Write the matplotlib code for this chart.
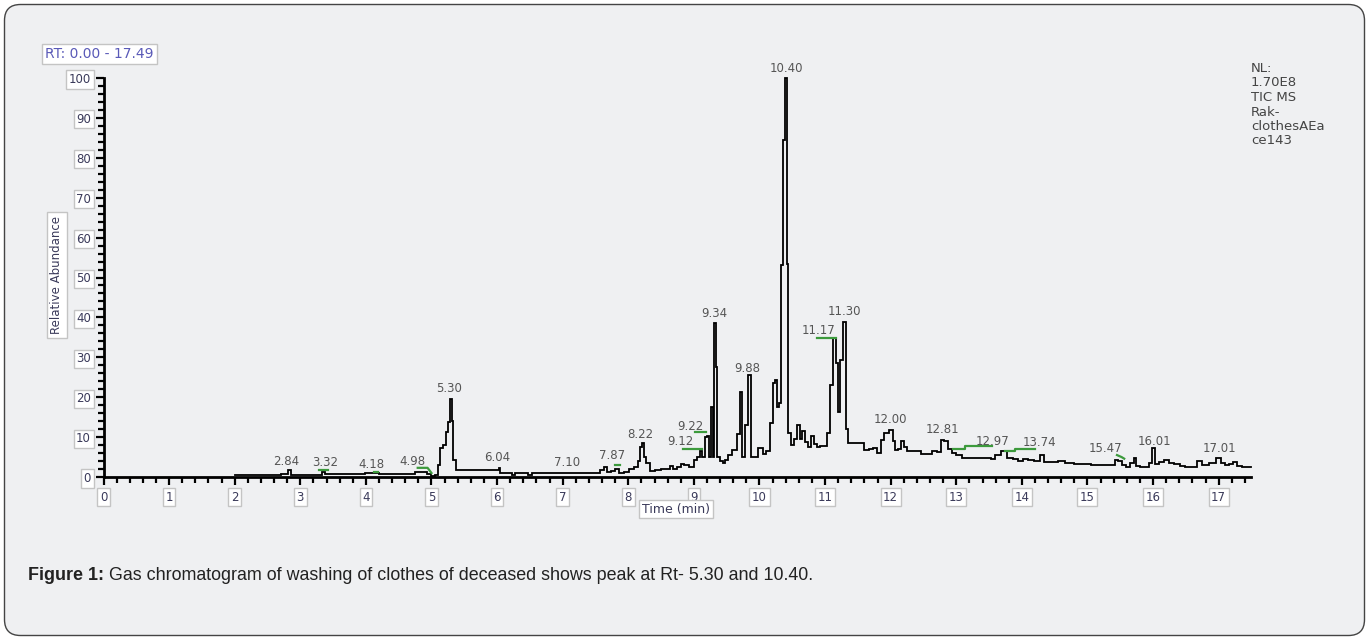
import matplotlib
matplotlib.use("Agg")
import matplotlib.pyplot as plt
import numpy as np
from matplotlib.patches import FancyBboxPatch
from matplotlib.transforms import IdentityTransform
from matplotlib.ticker import MultipleLocator

# TIC trace (retention time in min, relative abundance in %)
rt = [2.00, 2.30, 2.60, 2.80, 2.84, 2.88, 3.00, 3.30, 3.36, 3.40, 3.80, 4.18, 4.22,
      4.60, 4.90, 4.96, 5.02, 5.08, 5.11, 5.15, 5.20, 5.23, 5.27, 5.30, 5.32, 5.35,
      5.39, 5.60, 5.80, 6.02, 6.04, 6.06, 6.20, 6.25, 6.30, 6.45, 6.50, 6.55, 6.80,
      7.00, 7.30, 7.55, 7.60, 7.65, 7.70, 7.76, 7.83, 7.90, 7.97, 8.05, 8.12, 8.17,
      8.19, 8.22, 8.25, 8.30, 8.37, 8.45, 8.55, 8.62, 8.66, 8.70, 8.78, 8.83, 8.88,
      8.96, 9.03, 9.08, 9.11, 9.15, 9.19, 9.21, 9.24, 9.28, 9.30, 9.32, 9.35, 9.37,
      9.42, 9.46, 9.50, 9.54, 9.61, 9.69, 9.72, 9.76, 9.80, 9.85, 9.88, 9.95, 10.02,
      10.08, 10.13, 10.18, 10.22, 10.25, 10.28, 10.32, 10.35, 10.38, 10.40, 10.43,
      10.45, 10.50, 10.55, 10.60, 10.64, 10.67, 10.72, 10.76, 10.80, 10.85, 10.90,
      10.95, 11.00, 11.05, 11.10, 11.14, 11.18, 11.21, 11.25, 11.30, 11.33, 11.38,
      11.45, 11.55, 11.63, 11.70, 11.76, 11.83, 11.88, 11.93, 12.01, 12.05, 12.08,
      12.13, 12.18, 12.23, 12.28, 12.43, 12.50, 12.59, 12.66, 12.74, 12.78, 12.84,
      12.90, 12.96, 13.04, 13.12, 13.30, 13.50, 13.57, 13.62, 13.74, 13.82, 13.90,
      13.98, 14.05, 14.15, 14.23, 14.31, 14.36, 14.50, 14.61, 14.70, 14.89, 15.00,
      15.10, 15.20, 15.30, 15.40, 15.44, 15.50, 15.55, 15.63, 15.68, 15.73, 15.76,
      15.85, 15.91, 15.97, 16.01, 16.06, 16.12, 16.21, 16.28, 16.36, 16.45, 16.51,
      16.64, 16.71, 16.77, 16.82, 16.90, 17.01, 17.07, 17.12, 17.20, 17.25, 17.32,
      17.40, 17.49]
abund = [0.5, 0.6, 0.6, 0.7, 1.8, 0.6, 0.5, 0.6, 1.2, 0.7, 0.7, 0.9, 0.7,
         0.8, 1.2, 0.8, 0.3, 0.4, 3.0, 7.3, 8.0, 11.4, 13.9, 19.5, 14.0, 4.3,
         1.7, 1.7, 1.7, 1.7, 2.3, 1.0, 1.0, 0.6, 1.0, 1.1, 0.6, 1.1, 1.1,
         1.1, 1.1, 1.1, 1.8, 2.6, 1.3, 1.6, 2.1, 1.1, 1.3, 2.1, 2.6, 4.0,
         7.6, 8.4, 5.1, 3.4, 1.6, 1.7, 2.0, 2.0, 2.8, 2.0, 2.6, 3.3, 2.9,
         2.5, 4.3, 5.1, 6.4, 5.0, 10.1, 10.3, 5.0, 17.6, 5.0, 38.5, 27.6, 5.0,
         4.0, 3.4, 4.2, 5.5, 6.7, 10.9, 21.4, 5.0, 13.0, 25.6, 5.0, 5.0, 7.2,
         5.8, 6.4, 13.6, 23.5, 24.3, 17.6, 18.5, 53.1, 84.5, 100.0, 53.5,
         11.0, 8.0, 9.6, 13.0, 9.6, 11.6, 8.8, 7.5, 10.4, 8.3, 7.4,
         7.7, 7.8, 11.0, 23.0, 34.8, 28.5, 16.3, 29.3, 38.9, 12.0, 8.4,
         8.4, 8.4, 6.8, 7.0, 7.3, 6.0, 9.2, 11.0, 11.8, 9.0, 6.7,
         7.0, 8.9, 7.5, 6.4, 6.4, 5.8, 5.8, 6.4, 6.2, 9.3, 8.9,
         7.0, 6.0, 5.6, 4.8, 4.8, 4.8, 4.6, 5.6, 6.4, 4.7, 4.5,
         4.0, 4.4, 4.3, 4.1, 5.4, 3.8, 3.8, 4.0, 3.6, 3.3, 3.3,
         3.0, 2.9, 2.9, 3.0, 4.3, 3.9, 3.0, 2.6, 3.5, 4.7, 2.8,
         2.6, 2.5, 3.4, 7.2, 3.2, 3.7, 4.3, 3.6, 3.3, 2.8, 2.5,
         2.5, 4.0, 2.9, 3.0, 3.4, 4.7, 3.5, 2.9, 3.3, 3.8, 2.7,
         2.6, 2.5]

# peak labels: text, x position, y position
peak_text = ["2.84", "3.32", "4.18", "4.98", "5.30", "6.04", "7.10", "7.87", "8.22",
             "9.12", "9.22", "9.34", "9.88", "10.40", "11.17", "11.30", "12.00",
             "12.81", "12.97", "13.74", "15.47", "16.01", "17.01"]
peak_x = [2.79, 3.38, 4.08, 4.71, 5.27, 6.00, 7.07, 7.76, 8.18,
          8.80, 8.95, 9.31, 9.81, 10.41, 10.90, 11.30, 12.00,
          12.79, 13.55, 14.27, 15.28, 16.02, 17.01]
peak_y = [4.0, 3.7, 3.2, 3.9, 22.3, 4.8, 3.6, 5.3, 10.7,
          9.0, 12.6, 40.9, 27.2, 102.3, 36.8, 41.4, 14.3,
          11.8, 9.0, 8.6, 7.2, 9.0, 7.2]

# integration baselines (green)
base_x = [[3.29, 3.43], [4.13, 4.18], [4.79, 4.94, 5.00], [7.79, 7.87],
          [8.83, 9.13], [9.02, 9.19], [10.87, 11.17],
          [12.95, 13.13, 13.13, 13.54], [13.74, 13.90, 13.90, 14.20],
          [15.45, 15.52, 15.56]]
base_y = [[1.75, 1.75], [1.2, 1.2], [2.3, 2.3, 1.0], [3.0, 3.0],
          [7.0, 7.0], [11.2, 11.2], [34.8, 34.8],
          [7.0, 7.0, 7.8, 7.8], [6.4, 6.4, 7.0, 7.0],
          [5.5, 5.0, 4.6]]

info_text = "NL:\n1.70E8\nTIC MS\nRak-\nclothesAEa\nce143"
caption_bold = "Figure 1:"
caption_rest = " Gas chromatogram of washing of clothes of deceased shows peak at Rt- 5.30 and 10.40."

W, H = 1370, 640
bg = "#eff0f2"
fig = plt.figure(figsize=(W / 100, H / 100), dpi=100)
fig.patch.set_facecolor("white")

card = FancyBboxPatch((4.5, 4.5), W - 10, H - 9,
                      boxstyle="round,pad=0,rounding_size=16",
                      transform=IdentityTransform(), fc=bg, ec="#444444", lw=1.0,
                      zorder=-5)
fig.add_artist(card)

x0, x1 = 103.5, 1250.8
y0, y1 = 477, 78
ax = fig.add_axes([x0 / W, (H - y0) / H, (x1 - x0) / W, (y0 - y1) / H])
ax.patch.set_visible(False)
ax.set_xlim(0, 17.49)
ax.set_ylim(0, 100)

ax.plot(rt, abund, color="black", lw=1.3, drawstyle="steps-mid", clip_on=False,
        solid_joinstyle="miter")
for bx, by in zip(base_x, base_y):
    ax.plot(bx, by, color="#3c9a3c", lw=1.6, clip_on=False)

for txt, px, py in zip(peak_text, peak_x, peak_y):
    ax.text(px, py, txt, ha="center", va="center", fontsize=8.5, color="#555555",
            clip_on=False)

for side in ["top", "right"]:
    ax.spines[side].set_visible(False)
for side in ["left", "bottom"]:
    ax.spines[side].set_linewidth(2.0)

ax.xaxis.set_major_locator(MultipleLocator(1))
ax.xaxis.set_minor_locator(MultipleLocator(0.2))
ax.yaxis.set_major_locator(MultipleLocator(10))
ax.yaxis.set_minor_locator(MultipleLocator(2))
ax.tick_params(which="major", length=6, width=1.6, labelsize=8.5, labelcolor="#3a3a5a")
ax.tick_params(which="minor", length=4, width=1.6)
ax.tick_params(axis="x", pad=4)
ax.tick_params(axis="y", pad=3)

box = dict(boxstyle="square,pad=0.22", fc="white", ec="#c4c4c4", lw=1.0)
for lab in ax.get_xticklabels() + ax.get_yticklabels():
    lab.set_bbox(box)

fig.text(57 / W, 1 - 275 / H, "Relative Abundance", rotation=90, ha="center", va="center",
         fontsize=8.5, color="#3a3a5a", bbox=dict(boxstyle="square,pad=0.3", fc="white",
                                                  ec="#c4c4c4", lw=1.0))
fig.text(676 / W, 1 - 509 / H, "Time (min)", ha="center", va="center", fontsize=9,
         color="#3a3a5a", bbox=box)
fig.text(45 / W, 1 - 54 / H, "RT: 0.00 - 17.49", ha="left", va="center", fontsize=10,
         color="#5a5ab8", bbox=box)
fig.text(1251 / W, 1 - 62 / H, info_text, ha="left", va="top", fontsize=9.5,
         color="#444444", linespacing=1.15)

cap_y = 1 - 575 / H
t1 = fig.text(28 / W, cap_y, caption_bold, ha="left", va="center", fontsize=12.9,
              fontweight="bold", family="Liberation Sans", color="#222222")
fig.canvas.draw()
bb = t1.get_window_extent(renderer=fig.canvas.get_renderer())
fig.text(bb.x1 / W, cap_y, caption_rest, ha="left", va="center", fontsize=12.9,
         family="Liberation Sans", color="#222222")

fig.savefig("out.png", dpi=100, facecolor=fig.get_facecolor())
